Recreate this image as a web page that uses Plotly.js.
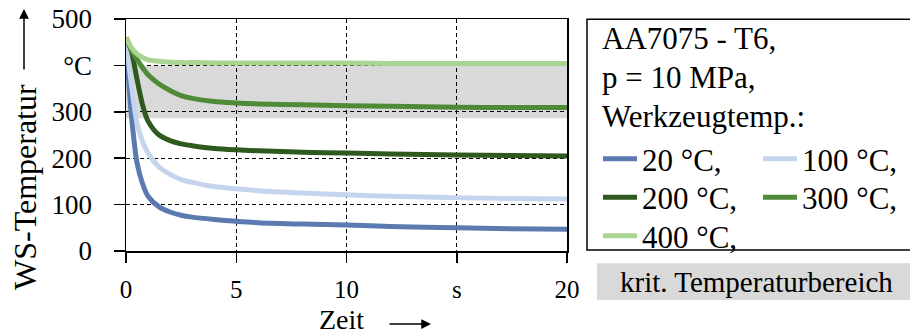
<!DOCTYPE html>
<html>
<head>
<meta charset="utf-8">
<script src="https://cdn.plot.ly/plotly-3.0.1.min.js"></script>
<style>html,body{margin:0;padding:0;background:#fff;}#chart{width:910px;height:336px;}</style>
</head>
<body>
<div id="chart"></div>
<script>
// ---- data ----
const time     = [0, 0.125, 0.25, 0.5, 0.75, 1, 1.5, 2, 2.5, 3, 4, 5, 6, 8, 10, 12, 15, 17.5, 20];
const temp20   = [460, 365, 290, 190, 145, 118, 95, 84, 77, 73, 68, 64, 61, 58, 56, 53, 50, 48, 47];
const temp100  = [460, 405, 357, 275, 236, 211, 181, 165, 154, 148, 139, 134, 130, 125, 121, 118, 115, 113, 112];
const temp200  = [460, 447, 430, 370, 315, 280, 250, 238, 231, 227, 221, 218, 216, 213, 211, 209, 207, 206, 205];
const temp300  = [460, 445, 432, 413, 395, 380, 360, 346, 335, 329, 322, 319, 317, 315, 313, 312, 310, 309, 309];
const temp400  = [460, 448, 438, 425, 417, 412, 409, 407, 406, 406, 405, 405, 405, 405, 405, 404, 404, 404, 404];
const seriesNames = ["20 °C,", "100 °C,", "200 °C,", "300 °C,", "400 °C,"];
const critRange = [286, 400];
const xTickVals = [0, 5, 10, 15, 20];
const xTickText = ["0", "5", "10", "s", "20"];
const yTickVals = [0, 100, 200, 300, 400, 500];
const yTickText = ["0", "100", "200", "300", "°C", "500"];
const headerLines = ["AA7075 - T6,", "p = 10 MPa,", "Werkzeugtemp.:"];

// ---- styles ----
const FONT = "Liberation Serif";
const colors = ["#5b7aaf", "#c6d5ee", "#2f5a1f", "#4f8a37", "#a9d491"];
const values = [temp20, temp100, temp200, temp300, temp400];
const legendIds = ["legend", "legend2", "legend3", "legend4", "legend5"];

const traces = values.map((v, i) => ({
  type: "scatter", mode: "lines", x: time, y: v, name: seriesNames[i],
  line: {color: colors[i], width: 5, shape: "spline", smoothing: 0.8},
  legend: legendIds[i]
}));

// pixel helpers for paper coords (plot area 126..567 x, 19..251 y)
const L = 126, R = 567, T = 19, B = 251;
const px = p => (p - L) / (R - L);
const py = p => (B - p) / (B - T);

const axisCommon = {
  ticks: "outside", tickcolor: "#000", tickwidth: 1.5,
  showline: true, linecolor: "#000", linewidth: 1.5, mirror: true,
  showgrid: true, gridcolor: "#000", gridwidth: 1, griddash: "4px,3px",
  zeroline: false, fixedrange: true
};

const annotations = [
  {xref: "paper", yref: "paper", x: px(25), y: py(187), text: "WS-Temperatur", textangle: -90,
   showarrow: false, xanchor: "center", yanchor: "middle", font: {family: FONT, size: 32, color: "#000"}},
  {xref: "paper", yref: "paper", x: px(24), y: py(9), text: "", showarrow: true,
   ax: 0, ay: 62, arrowhead: 2, arrowsize: 1.3, arrowwidth: 1.5, arrowcolor: "#000"},
  {xref: "paper", yref: "paper", x: px(341), y: py(336), text: "Zeit", height: 30, valign: "middle",
   showarrow: false, xanchor: "center", yanchor: "bottom", font: {family: FONT, size: 28, color: "#000"}},
  {xref: "paper", yref: "paper", x: px(431), y: py(324), text: "", showarrow: true,
   ax: -43, ay: 0, arrowhead: 2, arrowsize: 1.3, arrowwidth: 1.5, arrowcolor: "#000"},
  {xref: "paper", yref: "paper", x: px(756), y: py(282), text: "krit. Temperaturbereich",
   showarrow: false, xanchor: "center", yanchor: "middle", font: {family: FONT, size: 29, color: "#000"}}
];
const headerY = [39, 77, 116];
headerLines.forEach((t, i) => annotations.push({
  xref: "paper", yref: "paper", x: px(600), y: py(headerY[i]), text: t, showarrow: false,
  xanchor: "left", yanchor: "middle", font: {family: FONT, size: 31, color: "#000"}
}));

const legendCommon = {
  yref: "paper", xref: "paper", yanchor: "top", xanchor: "left",
  bgcolor: "rgba(0,0,0,0)", borderwidth: 0, orientation: "v",
  font: {family: FONT, size: 31, color: "#000"}, itemwidth: 34
};
// legend positions (pixel top-left) for a 2-column arrangement
const legendPos = [[598, 132], [758, 132], [598, 170.5], [758, 170.5], [598, 209]];

const layout = {
  width: 910, height: 336,
  margin: {l: L, r: 910 - R, t: T, b: 336 - B, autoexpand: false},
  paper_bgcolor: "#fff", plot_bgcolor: "#fff",
  showlegend: true,
  xaxis: Object.assign({}, axisCommon, {range: [0, 20], tickvals: xTickVals, ticktext: xTickText, ticklen: 10, ticklabelstandoff: 5,
    tickfont: {family: FONT, size: 25, color: "#000"}}),
  yaxis: Object.assign({}, axisCommon, {range: [0, 500], tickvals: yTickVals, ticktext: yTickText, ticklen: 11, ticklabelstandoff: 16,
    tickfont: {family: FONT, size: 27, color: "#000"}}),
  shapes: [
    {type: "rect", xref: "x", yref: "y", x0: xTickVals[0], x1: xTickVals[xTickVals.length - 1],
     y0: critRange[0], y1: critRange[1], fillcolor: "#d9d9d9", line: {width: 0}, layer: "below"},
    {type: "rect", xref: "paper", yref: "paper", x0: px(587), x1: px(915), y0: py(250), y1: py(19.3),
     fillcolor: "rgba(0,0,0,0)", line: {color: "#000", width: 1.5}},
    {type: "rect", xref: "paper", yref: "paper", x0: px(597), x1: px(915), y0: py(300), y1: py(263.3),
     fillcolor: "#d9d9d9", line: {width: 0}, layer: "below"}
  ],
  annotations: annotations
};
legendIds.forEach((id, i) => {
  layout[id] = Object.assign({}, legendCommon, {x: px(legendPos[i][0]), y: py(legendPos[i][1])});
});

Plotly.newPlot("chart", traces, layout, {staticPlot: true, displayModeBar: false});
</script>
</body>
</html>
